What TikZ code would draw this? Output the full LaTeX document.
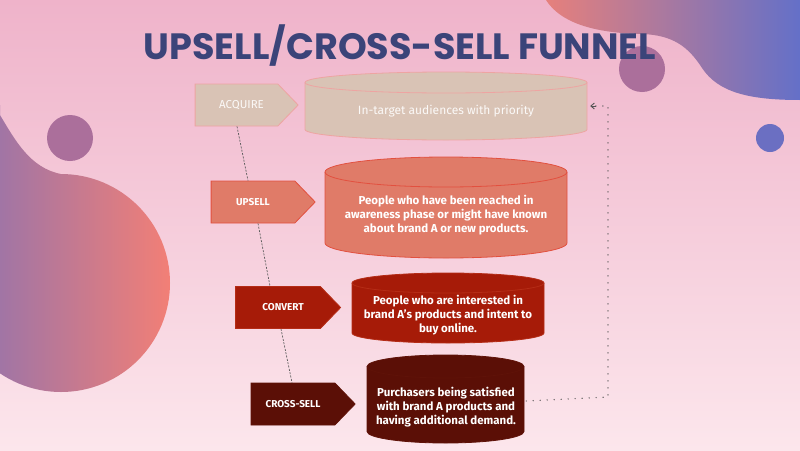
\documentclass[tikz,border=0pt]{standalone}
\usepackage{fontspec}
\setmainfont{Fira Sans}
\newfontfamily\titlefont{Poppins}
\usetikzlibrary{arrows.meta,shapes.symbols}
\definecolor{bgtop}{HTML}{EFB3CA}
\definecolor{bgbot}{HTML}{FCE6EC}
\definecolor{blobsal}{HTML}{E6807C}
\definecolor{blobblue}{HTML}{6470C8}
\definecolor{blobvio}{HTML}{8A72B2}
\definecolor{blobsal2}{HTML}{F27F76}
\definecolor{mauve}{HTML}{AB6F9B}
\definecolor{dotblue}{HTML}{6B6FC2}
\definecolor{titlec}{HTML}{3B4479}
\definecolor{beige}{HTML}{D9C3B5}
\definecolor{beigeb}{HTML}{EEA4A2}
\definecolor{salm}{HTML}{E07B68}
\definecolor{salmb}{HTML}{E2503F}
\definecolor{redf}{HTML}{A61B08}
\definecolor{redb}{HTML}{B52C16}
\definecolor{darkf}{HTML}{5B0F06}
\definecolor{darkb}{HTML}{5F1208}
\definecolor{connc}{HTML}{5E5E5E}
\definecolor{dotc}{HTML}{555555}
\tikzset{
  stagebox/.style={signal, signal to=east, signal pointer angle=92, inner sep=0pt,
    minimum width=104pt, minimum height=42pt, line width=0.8pt, text=white},
  stagefont/.style={font=\bfseries\fontsize{10}{12}\selectfont},
  cylbody/.style={line width=0.8pt},
  cyltext/.style={text=white, align=center, font=\bfseries\fontsize{11.5}{13.8}\selectfont},
  conn/.style={draw=connc, line width=0.7pt, dash pattern=on 2pt off 1.4pt},
  ret/.style={draw=dotc, line width=1.4pt, line cap=round, dash pattern=on 0pt off 7pt},
}
% \cylshape{name}{x1}{x2}{top}{bottom}{ry}{fill}{border}
\newcommand{\cylshape}[8]{%
  \pgfmathsetmacro{\rx}{(#3-#2)/2}%
  \pgfmathsetmacro{\cyA}{#4+#6}%
  \pgfmathsetmacro{\cyB}{#5-#6}%
  \pgfmathsetmacro{\cx}{(#2+#3)/2}%
  \pgfmathsetmacro{\cym}{(#4+#5)/2}%
  \filldraw[cylbody, fill=#7, draw=#8] (#2,\cyA) -- (#2,\cyB)
    arc[start angle=180, end angle=0, x radius=\rx, y radius=#6]
    -- (#3,\cyA)
    arc[start angle=0, end angle=-180, x radius=\rx, y radius=#6] -- cycle;
  \draw[cylbody, draw=#8] (#2,\cyA) arc[start angle=180, end angle=0, x radius=\rx, y radius=#6];
  \node[inner sep=0pt, minimum width={#3-#2}, minimum height={#5-#4}] (#1) at (\cx,\cym) {};
}
\begin{document}
\begin{tikzpicture}[x=1pt,y=-1pt]
\useasboundingbox (0,0) rectangle (800,450);
% background
\shade[top color=bgtop, bottom color=bgbot] (0,0) rectangle (800,450);
% top-right blob
\shade[left color=blobsal, right color=blobblue]
  (546,0) .. controls (560,22) and (592,33) .. (642,34)
  .. controls (672,35) and (688,46) .. (702,68)
  .. controls (718,92) and (748,100) .. (800,100) -- (800,0) -- cycle;
% left blob
\begin{scope}
\clip (0,0) rectangle (800,450);
\shade[left color=blobvio, right color=blobsal2]
  (0,105) -- (0,115) .. controls (15,140) and (30,168) .. (61,174) -- (61,283) -- (0,283) -- cycle
  (61,283) circle[radius=109];
\end{scope}
% circles
\fill[mauve] (70,138) circle[radius=23];
\fill[mauve] (642,69) circle[radius=23];
\fill[dotblue] (770,138) circle[radius=14];
% title
\node[text=titlec, font=\titlefont\bfseries\fontsize{36.6}{40}\selectfont, inner sep=0pt] (title) at (400,46) {UPSELL/CROSS-SELL FUNNEL};
% cylinders
\cylshape{c1}{305}{587}{72}{140}{10.5}{beige}{beigeb}
\cylshape{c2}{325}{567}{157}{258}{15}{salm}{salmb}
\cylshape{c3}{352}{544}{273}{343}{10}{redf}{redb}
\cylshape{c4}{367}{524}{355}{443}{11.5}{darkf}{darkb}
\node[text=white, text opacity=0.9, font=\fontsize{12}{14}\selectfont] (t1) at (446,111) {In-target audiences with priority};
\node[cyltext] (t2) at (446,215) {People who have been reached in\\awareness phase or might have known\\about brand A or new products.};
\node[cyltext] (t3) at (448,315) {People who are interested in\\brand A's products and intent to\\buy online.};
\node[cyltext] (t4) at (446,407) {Purchasers being satisfied\\with brand A products and\\having additional demand.};
% stage boxes
\node[stagebox, fill=beige, draw=beigeb, minimum width=103pt, text opacity=0.9, font=\fontsize{11.5}{13}\selectfont] (acq) at (236.5,105) {\hspace*{10pt}ACQUIRE};
\node[stagebox, stagefont, fill=salm, draw=salmb] (ups) at (253,202) {UPSELL};
\node[stagebox, stagefont, fill=redf, draw=redb, minimum width=105pt] (conv) at (278,307.5) {\hspace*{10pt}CONVERT};
\node[stagebox, stagefont, fill=darkf, draw=darkb] (cross) at (293,404) {CROSS-SELL};
% dashed connectors
\draw[conn] ([xshift=0.5pt]acq.south) -- ([xshift=-5pt]ups.north);
\draw[conn] ([xshift=5pt]ups.south) -- ([xshift=-8pt]conv.north);
\draw[conn] ([xshift=3pt]conv.south) -- ([xshift=-1pt]cross.north);
% return dotted arrow
\coordinate (rc) at (608,397);
\draw[ret] ([yshift=-2pt, xshift=2pt]c4.east) -- (rc) |- ([xshift=3pt]c1.east);
\draw[dotc, line width=0.9pt, -{Straight Barb[length=3.5pt,width=6pt]}] ([xshift=9pt]c1.east) -- ([xshift=3pt]c1.east);
\end{tikzpicture}
\end{document}
